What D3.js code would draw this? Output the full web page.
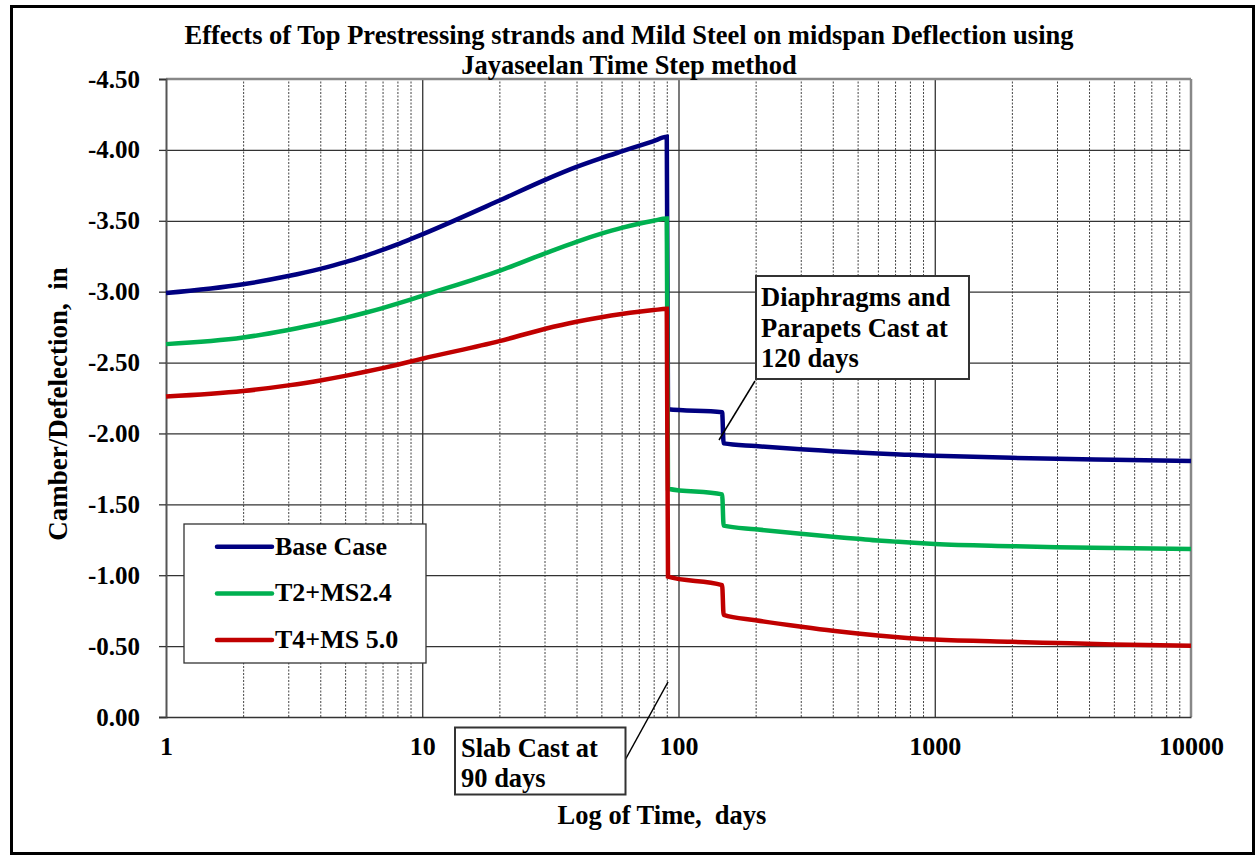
<!DOCTYPE html>
<html>
<head>
<meta charset="utf-8">
<script src="https://cdn.jsdelivr.net/npm/d3@7"></script>
<style>
  body { margin: 0; background: #fff; }
  text { font-family: "Liberation Serif", "Times New Roman", serif; font-weight: bold; fill: #000; white-space: pre; }
</style>
</head>
<body>
<script>
// time in days (log axis)
const days = [1, 2, 3, 4, 5, 6, 7, 8, 9, 10, 20, 30, 40, 50, 60, 70, 80, 90,
  91, 148, 150, 200, 300, 400, 500, 600, 700, 800, 1000, 2000, 3000, 5000, 10000];

const baseCase = [-2.99, -3.052, -3.11, -3.161, -3.208, -3.253, -3.294, -3.333, -3.37, -3.404,
  -3.643, -3.787, -3.88, -3.942, -3.989, -4.028, -4.062, -4.092,
  -2.17, -2.15, -1.93, -1.911, -1.888, -1.875, -1.865, -1.858, -1.853, -1.849, -1.843,
  -1.828, -1.821, -1.814, -1.806];

const t2ms24 = [-2.63, -2.676, -2.73, -2.775, -2.815, -2.851, -2.884, -2.915, -2.944, -2.971,
  -3.147, -3.269, -3.352, -3.409, -3.45, -3.479, -3.50, -3.516,
  -1.61, -1.57, -1.35, -1.324, -1.292, -1.271, -1.257, -1.245, -1.237, -1.23, -1.22,
  -1.205, -1.198, -1.192, -1.185];

const t4ms50 = [-2.26, -2.299, -2.339, -2.374, -2.406, -2.435, -2.461, -2.485, -2.507, -2.527,
  -2.651, -2.737, -2.788, -2.82, -2.842, -2.858, -2.87, -2.879,
  -0.99, -0.93, -0.72, -0.682, -0.637, -0.608, -0.589, -0.575, -0.564, -0.556, -0.546,
  -0.53, -0.522, -0.512, -0.503];

const seriesNames = ["Base Case", "T2+MS2.4", "T4+MS 5.0"];
const seriesColors = ["#000080", "#00B050", "#C00000"];
const xTicks = [1, 10, 100, 1000, 10000];
const yTicks = [0, -0.5, -1, -1.5, -2, -2.5, -3, -3.5, -4, -4.5];

const titleLines = ["Effects of Top Prestressing strands and Mild Steel on midspan Deflection using",
  "Jayaseelan Time Step method"];
const note1 = ["Diaphragms and", "Parapets Cast at", "120 days"];
const note2 = ["Slab Cast at", "90 days"];

const W = 1257, H = 856;
const margin = { top: 79, left: 166, right: 66, bottom: 139 };
const width = W - margin.left - margin.right;
const height = H - margin.top - margin.bottom;

const root = d3.select("body").append("svg")
  .attr("width", W)
  .attr("height", H);

// outer frame
root.append("rect")
  .attr("x", 11.5).attr("y", 6.5)
  .attr("width", 1242).attr("height", 847)
  .attr("fill", "#fff").attr("stroke", "#000").attr("stroke-width", 3);

const svg = root.append("g")
  .attr("transform", "translate(" + margin.left + "," + margin.top + ")");

const xScale = d3.scaleLog().domain([1, 10000]).range([0, width]);
const yScale = d3.scaleLinear().domain([0, -4.5]).range([height, 0]);

// minor vertical grid (dashed)
const minor = [];
for (let dec = 1; dec < 10000; dec *= 10) {
  for (let k = 2; k <= 9; k++) minor.push(dec * k);
}
svg.append("g")
  .attr("transform", "translate(0," + height + ")")
  .call(d3.axisBottom(xScale).tickValues(minor).tickSize(-height).tickFormat(""))
  .call(g => g.select(".domain").remove())
  .call(g => g.selectAll("line").attr("stroke", "#444").attr("stroke-dasharray", "2,1.5").attr("stroke-width", 1));

// major vertical grid
svg.append("g")
  .attr("transform", "translate(0," + height + ")")
  .call(d3.axisBottom(xScale).tickValues([10, 100, 1000]).tickSize(-height).tickFormat(""))
  .call(g => g.select(".domain").remove())
  .call(g => g.selectAll("line").attr("stroke", "#222").attr("stroke-width", 1.2));

// horizontal grid
svg.append("g")
  .call(d3.axisLeft(yScale).tickValues(yTicks.filter(d => d !== 0 && d !== -4.5)).tickSize(-width).tickFormat(""))
  .call(g => g.select(".domain").remove())
  .call(g => g.selectAll("line").attr("stroke", "#333").attr("stroke-width", 1.3));

// plot border top/right
svg.append("line").attr("x1", 0).attr("x2", width).attr("y1", 0).attr("y2", 0)
  .attr("stroke", "#888").attr("stroke-width", 2.5);
svg.append("line").attr("x1", width).attr("x2", width).attr("y1", 0).attr("y2", height)
  .attr("stroke", "#888").attr("stroke-width", 2.5);

// y axis
svg.append("g")
  .call(d3.axisLeft(yScale).tickValues(yTicks).tickSize(7).tickPadding(19).tickFormat(d => d.toFixed(2)))
  .call(g => g.select(".domain").attr("stroke", "#555").attr("stroke-width", 2))
  .call(g => g.selectAll("line").attr("stroke", "#333").attr("stroke-width", 1.3))
  .call(g => g.selectAll("text").attr("font-size", 25).attr("font-family", null));

// x axis
svg.append("g")
  .attr("transform", "translate(0," + height + ")")
  .call(d3.axisBottom(xScale).tickValues(xTicks).tickSize(0).tickFormat(d3.format("d")))
  .call(g => g.select(".domain").attr("stroke", "#333").attr("stroke-width", 1.5))
  .call(g => g.selectAll("text").attr("font-size", 26).attr("font-family", null).attr("dy", null).attr("y", 38));

// series
const series = [baseCase, t2ms24, t4ms50];
const line = d3.line()
  .x((d, i) => xScale(days[i]))
  .y(d => yScale(d))
  .curve(d3.curveMonotoneX);

series.forEach((vals, s) => {
  svg.append("path")
    .datum(vals)
    .attr("fill", "none")
    .attr("stroke", seriesColors[s])
    .attr("stroke-width", 4.5)
    .attr("stroke-linejoin", "miter")
    .attr("d", line);
});

// title
root.selectAll(".title").data(titleLines).enter().append("text")
  .attr("class", "title")
  .attr("x", 629)
  .attr("y", (d, i) => 44 + i * 30)
  .attr("text-anchor", "middle")
  .attr("font-size", 26.5)
  .text(d => d);

// axis titles
root.append("text")
  .attr("x", 662).attr("y", 824)
  .attr("text-anchor", "middle")
  .attr("font-size", 26.5)
  .text("Log of Time,  days");

root.append("text")
  .attr("transform", "translate(67,404) rotate(-90)")
  .attr("text-anchor", "middle")
  .attr("font-size", 27)
  .text("Camber/Defelection,  in");

// legend
const legend = root.append("g");
legend.append("rect")
  .attr("x", 184).attr("y", 524).attr("width", 242).attr("height", 139)
  .attr("fill", "#fff").attr("stroke", "#333").attr("stroke-width", 1.3);
seriesNames.forEach((name, i) => {
  const yy = 546.7 + i * 46.7;
  legend.append("line")
    .attr("x1", 217).attr("x2", 272).attr("y1", yy).attr("y2", yy)
    .attr("stroke", seriesColors[i]).attr("stroke-width", 4.5).attr("stroke-linecap", "round");
  legend.append("text")
    .attr("x", 275).attr("y", yy + 8)
    .attr("font-size", 26)
    .text(name);
});

// annotation: diaphragms
root.append("line")
  .attr("x1", 755).attr("y1", 381).attr("x2", 719).attr("y2", 440)
  .attr("stroke", "#000").attr("stroke-width", 1.5);
root.append("rect")
  .attr("x", 756).attr("y", 276).attr("width", 213).attr("height", 103)
  .attr("fill", "#fff").attr("stroke", "#333").attr("stroke-width", 2);
root.selectAll(".note1").data(note1).enter().append("text")
  .attr("class", "note1")
  .attr("x", 761).attr("y", (d, i) => 306 + i * 30.7)
  .attr("font-size", 26.5)
  .text(d => d);

// annotation: slab cast
root.append("line")
  .attr("x1", 624).attr("y1", 762).attr("x2", 668).attr("y2", 682)
  .attr("stroke", "#000").attr("stroke-width", 1.5);
root.append("rect")
  .attr("x", 455).attr("y", 727.5).attr("width", 170.5).attr("height", 67)
  .attr("fill", "#fff").attr("stroke", "#333").attr("stroke-width", 2);
root.selectAll(".note2").data(note2).enter().append("text")
  .attr("class", "note2")
  .attr("x", 461).attr("y", (d, i) => 757 + i * 30)
  .attr("font-size", 26.5)
  .text(d => d);
</script>
</body>
</html>
